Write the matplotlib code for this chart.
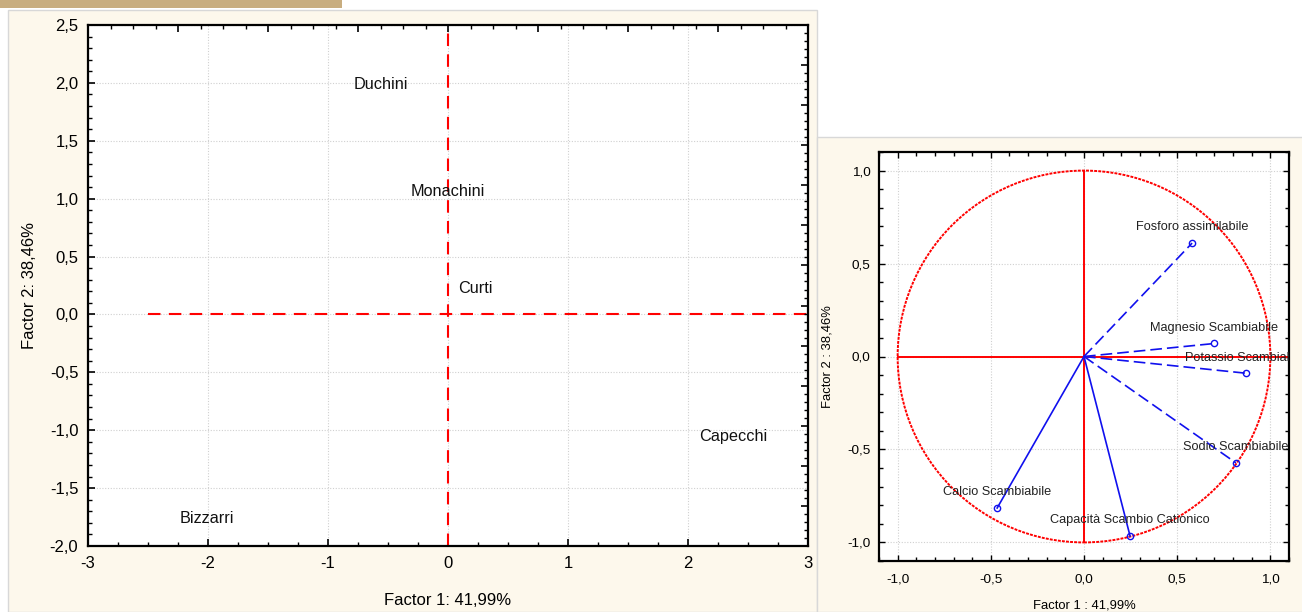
import matplotlib
matplotlib.use("Agg")
import matplotlib.pyplot as plt
from matplotlib.patches import Rectangle, Circle
from matplotlib.ticker import MultipleLocator, FixedLocator, FuncFormatter
import numpy as np

plt.rcParams['font.family'] = ['Liberation Sans', 'DejaVu Sans']

# ---- data: left panel (case scores) ----
cases = ["Duchini", "Monachini", "Curti", "Capecchi", "Bizzarri"]
case_f1 = [-0.56, 0.00, 0.23, 2.38, -2.01]
case_f2 = [1.99, 1.06, 0.22, -1.05, -1.76]

# ---- data: right panel (variable loadings) ----
variables = ["Fosforo assimilabile", "Magnesio Scambiabile", "Potassio Scambiabile",
             "Sodio Scambiabile", "Capacità Scambio Cationico", "Calcio Scambiabile"]
load_f1 = [0.58, 0.70, 0.87, 0.815, 0.247, -0.466]
load_f2 = [0.61, 0.07, -0.09, -0.572, -0.965, -0.815]
dashed = [True, True, True, True, False, False]

W, H = 1302, 612
fig = plt.figure(figsize=(W / 100, H / 100), dpi=100, facecolor='white')

def fx(px):
    return px / W

def fy(py):
    return 1 - py / H

CREAM = '#fdf8ec'
BORDER = '#d8d8d8'

# background panels
fig.patches.append(Rectangle((0, fy(8)), fx(342), 8 / H, transform=fig.transFigure,
                             facecolor='#c8ad7f', edgecolor='none', zorder=-5))
fig.patches.append(Rectangle((fx(8), 0), fx(817 - 8), fy(10), transform=fig.transFigure,
                             facecolor=CREAM, edgecolor=BORDER, lw=1, zorder=-5))
fig.patches.append(Rectangle((fx(817), 0), fx(W - 817) + 0.01, fy(137), transform=fig.transFigure,
                             facecolor=CREAM, edgecolor=BORDER, lw=1, zorder=-5))

def comma1(v, pos):
    s = f"{v:.1f}".replace('.', ',')
    if s == "-0,0":
        s = "0,0"
    return s

def intfmt(v, pos):
    return f"{int(round(v))}"

# ================= Left panel =================
ax = fig.add_axes([fx(88), fy(546), fx(808 - 88), (546 - 25) / H])
ax.set_facecolor('white')
ax.set_xlim(-3, 3)
ax.set_ylim(-2, 2.5)
ax.xaxis.set_major_locator(MultipleLocator(1))
ax.xaxis.set_minor_locator(MultipleLocator(0.25))
ax.yaxis.set_major_locator(MultipleLocator(0.5))
ax.yaxis.set_minor_locator(MultipleLocator(0.1))
ax.xaxis.set_major_formatter(FuncFormatter(intfmt))
ax.yaxis.set_major_formatter(FuncFormatter(comma1))
ax.tick_params(which='both', direction='in', top=False, right=False, labelsize=12, pad=7)
ax.tick_params(which='major', length=5, width=1.2)
ax.tick_params(which='minor', length=3, width=1)
ax.grid(True, which='major', color='#d0d0d0', linestyle=(0, (1, 1.5)), lw=0.8)
for sp in ax.spines.values():
    sp.set_linewidth(1.6)
    sp.set_color('black')

# top/right independent tick scales
axt = ax.twiny()
axt.set_xlim(-3, 3)
axt.xaxis.set_major_locator(MultipleLocator(0.75))
axt.xaxis.set_minor_locator(MultipleLocator(0.1875))
axt.tick_params(which='both', direction='in', labeltop=False)
axt.tick_params(which='major', length=5, width=1.2)
axt.tick_params(which='minor', length=3, width=1)
axr = ax.twinx()
axr.set_ylim(-2, 2.5)
maj = [2.5 - k * 4.5 / 13 for k in range(14)]
mnr = [2.5 - k * 4.5 / 65 for k in range(66)]
axr.yaxis.set_major_locator(FixedLocator(maj))
axr.yaxis.set_minor_locator(FixedLocator(mnr))
axr.tick_params(which='both', direction='in', labelright=False)
axr.tick_params(which='major', length=5, width=1.2)
axr.tick_params(which='minor', length=3, width=1)
for a in (axt, axr):
    for sp in a.spines.values():
        sp.set_visible(False)

ax.plot([-2.5, 3], [0, 0], color='red', lw=1.5, linestyle=(0, (6, 4)), zorder=2)
ax.plot([0, 0], [-2, 2.5], color='red', lw=1.5, linestyle=(0, (6, 4)), zorder=2)

for name, x, y in zip(cases, case_f1, case_f2):
    ax.text(x, y, name, ha='center', va='center', fontsize=11.7, color='#111111', zorder=3)

ax.set_xlabel("Factor 1: 41,99%", fontsize=12, labelpad=16)
ax.set_ylabel("Factor 2: 38,46%", fontsize=12, labelpad=9)

# ================= Right panel =================
bx = fig.add_axes([fx(879), fy(561), fx(1289 - 879), (561 - 152) / H])
bx.set_facecolor('white')
bx.set_xlim(-1.1, 1.1)
bx.set_ylim(-1.1, 1.1)
bx.xaxis.set_major_locator(MultipleLocator(0.5))
bx.xaxis.set_minor_locator(MultipleLocator(0.1))
bx.yaxis.set_major_locator(MultipleLocator(0.5))
bx.yaxis.set_minor_locator(MultipleLocator(0.1))
bx.xaxis.set_major_formatter(FuncFormatter(comma1))
bx.yaxis.set_major_formatter(FuncFormatter(comma1))
bx.tick_params(which='both', direction='in', top=True, right=True, labelsize=9.7, pad=6)
bx.tick_params(axis='x', pad=9)
bx.tick_params(which='major', length=4, width=1)
bx.tick_params(which='minor', length=3, width=1)
bx.grid(True, which='major', color='#d0d0d0', linestyle=(0, (1, 1.5)), lw=0.8)
for sp in bx.spines.values():
    sp.set_linewidth(1.6)
    sp.set_color('black')

bx.add_patch(Circle((0, 0), 1.0, fill=False, edgecolor='red', lw=1.4,
                    linestyle=(0, (1.5, 0.6)), zorder=2))
bx.plot([-1.0, 1.1], [0, 0], color='red', lw=1.4, zorder=2)
bx.plot([0, 0], [-1.0, 1.0], color='red', lw=1.4, zorder=2)

for name, x, y, d in zip(variables, load_f1, load_f2, dashed):
    ls = (0, (7, 3)) if d else '-'
    bx.plot([0, x], [0, y], color='#1010ee', lw=1.2, linestyle=ls, zorder=3)
    bx.plot([x], [y], marker='o', ms=4.5, mfc='none', mec='#1010ee', mew=1, zorder=4)
    bx.annotate(name, (x, y), xytext=(0, 7), textcoords='offset points',
                ha='center', va='bottom', fontsize=9.2, color='#222222',
                annotation_clip=True, clip_on=True, zorder=5)

bx.set_xlabel("Factor 1 : 41,99%", fontsize=9.4, labelpad=10)
bx.set_ylabel("Factor 2 : 38,46%", fontsize=9.4, labelpad=10)

fig.savefig("out.png", dpi=100, facecolor=fig.get_facecolor())
